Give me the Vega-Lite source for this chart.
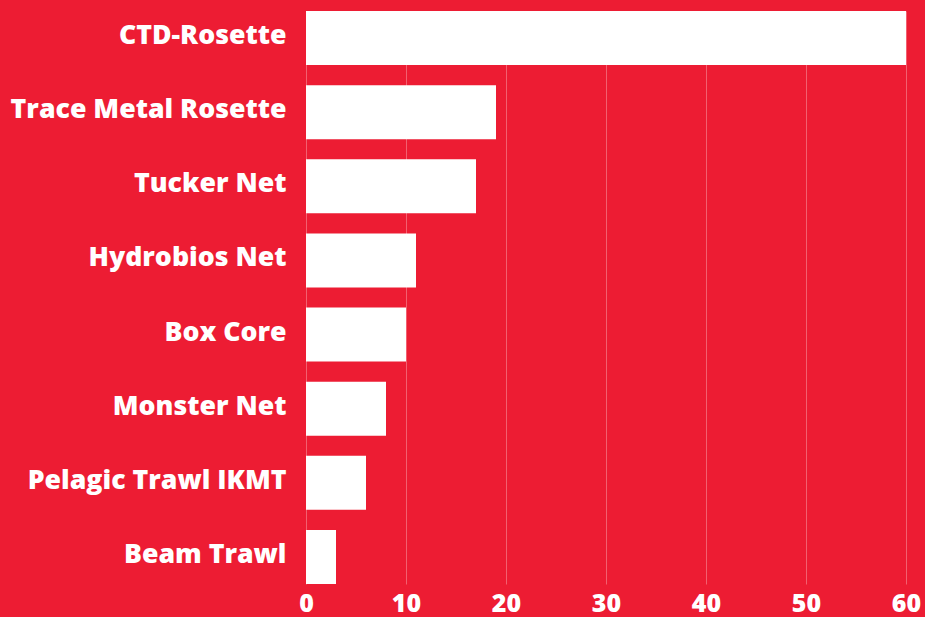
{
  "$schema": "https://vega.github.io/schema/vega-lite/v6.json",
  "width": 600,
  "height": 573,
  "autosize": {"type": "none"},
  "padding": {"left": 306, "top": 11, "right": 19, "bottom": 33},
  "background": "#ED1C33",
  "config": {"view": {"stroke": null}, "font": "Open Sans"},
  "data": {"values": [
    {"equipment": "CTD-Rosette", "count": 60},
    {"equipment": "Trace Metal Rosette", "count": 19},
    {"equipment": "Tucker Net", "count": 17},
    {"equipment": "Hydrobios Net", "count": 11},
    {"equipment": "Box Core", "count": 10},
    {"equipment": "Monster Net", "count": 8},
    {"equipment": "Pelagic Trawl IKMT", "count": 6},
    {"equipment": "Beam Trawl", "count": 3}
  ]},
  "mark": {"type": "bar", "color": "#FFFFFF"},
  "encoding": {
    "y": {
      "field": "equipment", "type": "nominal", "sort": null,
      "scale": {"paddingInner": 0.27, "paddingOuter": 0},
      "axis": {"title": null, "domain": false, "ticks": false, "labelFont": "Open Sans", "labelFontWeight": 800, "labelFontSize": 26.7, "labelColor": "#FFFFFF", "labelPadding": 20, "labelLimit": 400, "labelOffset": -2}
    },
    "x": {
      "field": "count", "type": "quantitative",
      "scale": {"domain": [0, 60], "nice": false},
      "axis": {"title": null, "domain": false, "ticks": false, "values": [0, 10, 20, 30, 40, 50, 60], "grid": true, "gridColor": "#FFFFFF", "gridOpacity": 0.3, "gridWidth": 1, "labelFont": "Open Sans", "labelFontWeight": 800, "labelFontSize": 25, "labelColor": "#FFFFFF", "labelPadding": 7, "labelFlush": false}
    }
  }
}
